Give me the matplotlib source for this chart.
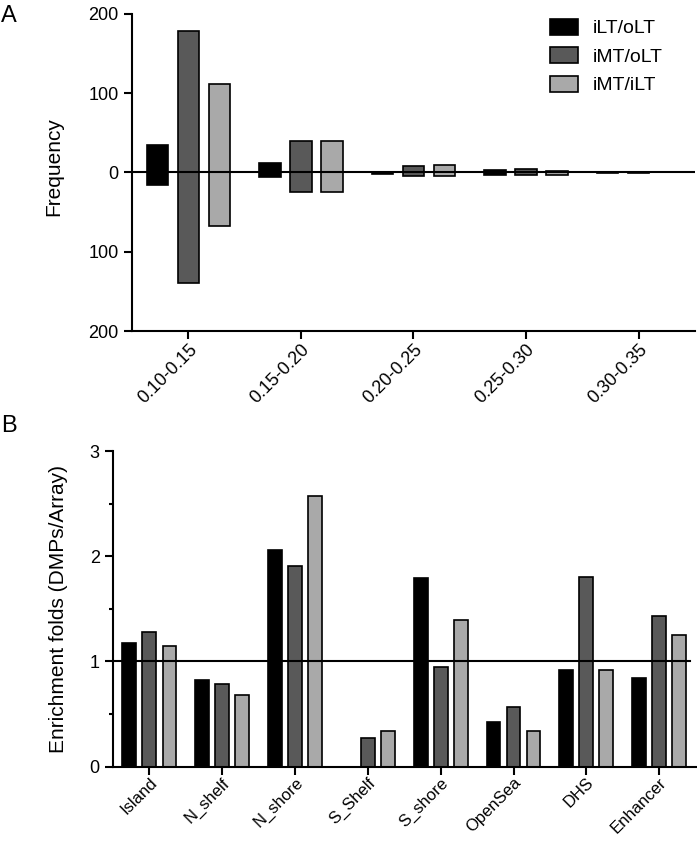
import numpy as np
import matplotlib
matplotlib.use("Agg")
import matplotlib.pyplot as plt

plt.rcParams['font.family'] = ['Liberation Sans', 'DejaVu Sans']

# ---- data ----
series = ["iLT/oLT", "iMT/oLT", "iMT/iLT"]
colors = ["#000000", "#595959", "#a9a9a9"]

# panel A: frequency per bin, up (hyper) and down (hypo)
bins = ["0.10-0.15", "0.15-0.20", "0.20-0.25", "0.25-0.30", "0.30-0.35"]
freq_up = {
    "iLT/oLT": [35, 12, 0.5, 3, 1],
    "iMT/oLT": [179, 40, 8, 4, 1],
    "iMT/iLT": [112, 40, 9, 2, 0],
}
freq_down = {
    "iLT/oLT": [16, 6, 2, 3, 0.5],
    "iMT/oLT": [140, 25, 4, 3.5, 0.5],
    "iMT/iLT": [68, 24, 5, 3.5, 0],
}

# panel B: enrichment folds
regions = ["Island", "N_shelf", "N_shore", "S_Shelf", "S_shore", "OpenSea", "DHS", "Enhancer"]
fold = {
    "iLT/oLT": [1.18, 0.82, 2.06, 0.0, 1.79, 0.42, 0.92, 0.84],
    "iMT/oLT": [1.28, 0.79, 1.91, 0.27, 0.945, 0.57, 1.80, 1.43],
    "iMT/iLT": [1.15, 0.68, 2.57, 0.34, 1.39, 0.34, 0.92, 1.25],
}

bar_w = 0.19
offsets = [-0.275, 0.0, 0.275]


def style_axes(ax):
    for s in ["top", "right"]:
        ax.spines[s].set_visible(False)
    for s in ["left", "bottom"]:
        ax.spines[s].set_linewidth(1.5)
    ax.tick_params(axis="both", which="major", length=6, width=1.5, labelsize=13)
    ax.tick_params(axis="x", pad=1)


fig = plt.figure(figsize=(6.97, 8.41), dpi=100)

# --- A ---
axA = fig.add_axes([0.1894, 0.6064, 0.8076, 0.3770])
x = np.arange(len(bins))
for i, name in enumerate(series):
    up = np.array(freq_up[name])
    dn = np.array(freq_down[name])
    axA.bar(x + offsets[i], up + dn, bottom=-dn, width=bar_w, color=colors[i],
            edgecolor="black", linewidth=1.2, label=name, zorder=2)
axA.axhline(0, color="black", linewidth=1.5, zorder=3)
axA.set_xlim(-0.5, len(bins) - 0.5)
axA.set_ylim(-200, 200)
axA.set_yticks([-200, -100, 0, 100, 200])
axA.set_yticklabels(["200", "100", "0", "100", "200"])
axA.set_xticks(x)
axA.set_xticklabels(bins, rotation=45, ha="right", rotation_mode="anchor")
axA.set_ylabel("Frequency", fontsize=15)
axA.yaxis.set_label_coords(-0.122, 0.52)
style_axes(axA)
axA.legend(loc="upper left", bbox_to_anchor=(0.7425, 0.985), frameon=False, fontsize=14,
           borderpad=0, borderaxespad=0,
           handlelength=1.45, handleheight=0.9, handletextpad=0.75, labelspacing=0.5)

# --- B ---
axB = fig.add_axes([0.1621, 0.0884, 0.8359, 0.3753])
x = np.arange(len(regions))
for i, name in enumerate(series):
    axB.bar(x + offsets[i], fold[name], width=bar_w, color=colors[i],
            edgecolor="black", linewidth=1.2, zorder=2)
axB.plot([-0.5, len(regions) - 0.58], [1, 1], color="black", linewidth=1.5, zorder=3)
axB.set_xlim(-0.5, len(regions) - 0.5)
axB.set_ylim(0, 3)
axB.set_yticks([0, 1, 2, 3])
axB.set_yticks([0.5, 1.5, 2.5], minor=True)
axB.tick_params(axis="y", which="minor", length=3, width=1.5)
axB.set_xticks(x)
axB.set_xticklabels(regions, rotation=45, ha="right", rotation_mode="anchor")
axB.set_ylabel("Enrichment folds (DMPs/Array)", fontsize=15)
axB.yaxis.set_label_coords(-0.077, 0.5)
style_axes(axB)
axB.tick_params(axis="x", labelsize=12, pad=0)

fig.text(0.002, 0.9738, "A", fontsize=17, va="baseline", ha="left")
fig.text(0.002, 0.4863, "B", fontsize=17, va="baseline", ha="left")

fig.savefig("out.png", dpi=100)
